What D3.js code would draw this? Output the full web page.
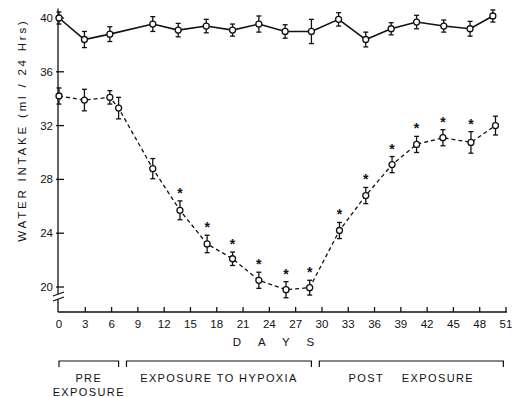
<!DOCTYPE html>
<html>
<head>
<meta charset="utf-8">
<script src="https://cdn.jsdelivr.net/npm/d3@7"></script>
<style>
  body { margin: 0; background: #fff; }
  svg { display: block; font-family: "Liberation Sans", Arial, sans-serif; }
</style>
</head>
<body>
<svg width="512" height="397"></svg>
<script>
// control group (solid line)
var ctrlDays = [0, 2.9, 5.8, 10.7, 13.6, 16.8, 19.8, 22.8, 25.8, 28.8, 31.9, 35, 37.9, 40.8, 43.9, 46.9, 49.5];
var ctrlMean = [40.0, 38.4, 38.8, 39.55, 39.1, 39.4, 39.1, 39.55, 39.0, 39.0, 39.9, 38.4, 39.2, 39.7, 39.4, 39.2, 40.15];
var ctrlErr  = [0.45, 0.6, 0.55, 0.55, 0.5, 0.5, 0.45, 0.6, 0.5, 0.9, 0.5, 0.55, 0.45, 0.5, 0.45, 0.55, 0.45];

// hypoxia group (dashed line)
var hypDays = [0, 2.9, 5.8, 6.8, 10.7, 13.8, 16.9, 19.8, 22.8, 25.9, 28.6, 32, 35, 38, 40.8, 43.8, 47, 49.8];
var hypMean = [34.2, 33.9, 34.1, 33.3, 28.8, 25.7, 23.2, 22.1, 20.5, 19.8, 19.95, 24.2, 26.8, 29.1, 30.6, 31.1, 30.75, 32.0];
var hypErr  = [0.6, 0.8, 0.5, 0.8, 0.75, 0.7, 0.65, 0.5, 0.6, 0.6, 0.55, 0.6, 0.6, 0.6, 0.6, 0.6, 0.8, 0.7];
var hypSig  = [0, 0, 0, 0, 0, 1, 1, 1, 1, 1, 1, 1, 1, 1, 1, 1, 1, 0];

var xTicks = [0, 3, 6, 9, 12, 15, 18, 21, 24, 27, 30, 33, 36, 39, 42, 45, 48, 51];
var yTicks = [20, 24, 28, 32, 36, 40];

var periods = [
    { from: 0, to: 6.8, label: ['PRE', 'EXPOSURE'] },
    { from: 7.7, to: 28.8, label: ['EXPOSURE TO HYPOXIA'] },
    { from: 29.7, to: 50.7, label: ['POST    EXPOSURE'] }
];

var svg = d3.select('svg');
var x = d3.scaleLinear().domain([0, 51]).range([59, 506]);
var y = d3.scaleLinear().domain([20, 40]).range([287, 18]);
var axisY = 312, axisX = 58;

/* ---------- AXES ---------- */
var axes = svg.append('g').attr('stroke', '#111').attr('fill', 'none').attr('stroke-width', 1.3);

axes.append('line').attr('x1', axisX).attr('x2', axisX).attr('y1', y(40.7)).attr('y2', axisY);
axes.append('line').attr('x1', axisX).attr('x2', x(51) + 1).attr('y1', axisY).attr('y2', axisY);

// axis break
axes.append('rect').attr('x', axisX - 3).attr('y', 294).attr('width', 6).attr('height', 5)
    .attr('fill', '#fff').attr('stroke', 'none');
axes.selectAll('line.brk').data([294, 299]).enter().append('line')
    .attr('class', 'brk')
    .attr('x1', axisX - 5).attr('x2', axisX + 6)
    .attr('y1', function (d) { return d + 2; })
    .attr('y2', function (d) { return d - 2; });

axes.selectAll('line.ytick').data(yTicks).enter().append('line')
    .attr('class', 'ytick')
    .attr('x1', axisX - 2).attr('x2', axisX + 6)
    .attr('y1', function (d) { return y(d); }).attr('y2', function (d) { return y(d); });

axes.selectAll('line.xtick').data(xTicks.slice(1)).enter().append('line')
    .attr('class', 'xtick')
    .attr('x1', function (d) { return x(d); }).attr('x2', function (d) { return x(d); })
    .attr('y1', axisY).attr('y2', axisY - 5);

svg.selectAll('text.ylab').data(yTicks).enter().append('text')
    .attr('class', 'ylab')
    .attr('x', axisX - 5).attr('y', function (d) { return y(d) + 4; })
    .attr('text-anchor', 'end').attr('font-size', 11.5).attr('fill', '#111')
    .text(function (d) { return d; });

svg.selectAll('text.xlab').data(xTicks).enter().append('text')
    .attr('class', 'xlab')
    .attr('x', function (d) { return x(d); }).attr('y', 328)
    .attr('text-anchor', 'middle').attr('font-size', 11.5).attr('fill', '#111')
    .text(function (d) { return d; });

svg.append('text')
    .attr('x', 282).attr('y', 346)
    .attr('text-anchor', 'middle').attr('font-size', 11.5).attr('fill', '#111')
    .attr('letter-spacing', 17)
    .text('DAYS');

svg.append('text')
    .attr('transform', 'translate(26,130) rotate(-90)')
    .attr('text-anchor', 'middle').attr('font-size', 11.5).attr('fill', '#111')
    .attr('letter-spacing', 2.8)
    .text('WATER  INTAKE  (ml / 24 Hrs)');

/* ---------- PERIOD BRACKETS ---------- */
var br = svg.selectAll('g.period').data(periods).enter().append('g').attr('class', 'period');
br.append('path')
    .attr('fill', 'none').attr('stroke', '#111').attr('stroke-width', 1.2)
    .attr('d', function (d) {
        return 'M' + x(d.from) + ',367V361H' + x(d.to) + 'V367';
    });
br.each(function (d) {
    var g = d3.select(this);
    d.label.forEach(function (t, i) {
        g.append('text')
            .attr('x', (x(d.from) + x(d.to)) / 2).attr('y', 382 + i * 14)
            .attr('text-anchor', 'middle').attr('font-size', 11).attr('fill', '#111')
            .attr('letter-spacing', 1.4)
            .attr('xml:space', 'preserve').style('white-space', 'pre')
            .text(t);
    });
});

/* ---------- SERIES ---------- */
function drawSeries(days, mean, err, dash) {
    var pts = days.map(function (d, i) { return { day: d, v: mean[i], e: err[i] }; });
    var line = d3.line().x(function (d) { return x(d.day); }).y(function (d) { return y(d.v); });
    var g = svg.append('g');

    g.append('path').datum(pts)
        .attr('fill', 'none').attr('stroke', '#111')
        .attr('stroke-width', dash ? 1.3 : 1.6)
        .attr('stroke-dasharray', dash ? '4,3' : null)
        .attr('d', line);

    var eb = g.selectAll('g.eb').data(pts).enter().append('g').attr('class', 'eb')
        .attr('stroke', '#111').attr('stroke-width', 1.3);
    eb.append('line')
        .attr('x1', function (d) { return x(d.day); }).attr('x2', function (d) { return x(d.day); })
        .attr('y1', function (d) { return y(d.v + d.e); }).attr('y2', function (d) { return y(d.v - d.e); });
    eb.append('line')
        .attr('x1', function (d) { return x(d.day) - 2.5; }).attr('x2', function (d) { return x(d.day) + 2.5; })
        .attr('y1', function (d) { return y(d.v + d.e); }).attr('y2', function (d) { return y(d.v + d.e); });
    eb.append('line')
        .attr('x1', function (d) { return x(d.day) - 2.5; }).attr('x2', function (d) { return x(d.day) + 2.5; })
        .attr('y1', function (d) { return y(d.v - d.e); }).attr('y2', function (d) { return y(d.v - d.e); });

    g.selectAll('circle').data(pts).enter().append('circle')
        .attr('cx', function (d) { return x(d.day); }).attr('cy', function (d) { return y(d.v); })
        .attr('r', 3).attr('fill', '#fff').attr('stroke', '#111').attr('stroke-width', 1.3);
    return pts;
}

drawSeries(ctrlDays, ctrlMean, ctrlErr, false);
var hyp = drawSeries(hypDays, hypMean, hypErr, true);

// significance marks
svg.selectAll('text.sig').data(hyp.filter(function (d, i) { return hypSig[i]; })).enter().append('text')
    .attr('class', 'sig')
    .attr('x', function (d) { return x(d.day); }).attr('y', function (d) { return y(d.v + d.e) - 3; })
    .attr('text-anchor', 'middle').attr('font-size', 14).attr('font-weight', 'bold').attr('fill', '#111')
    .text('*');
</script>
</body>
</html>
